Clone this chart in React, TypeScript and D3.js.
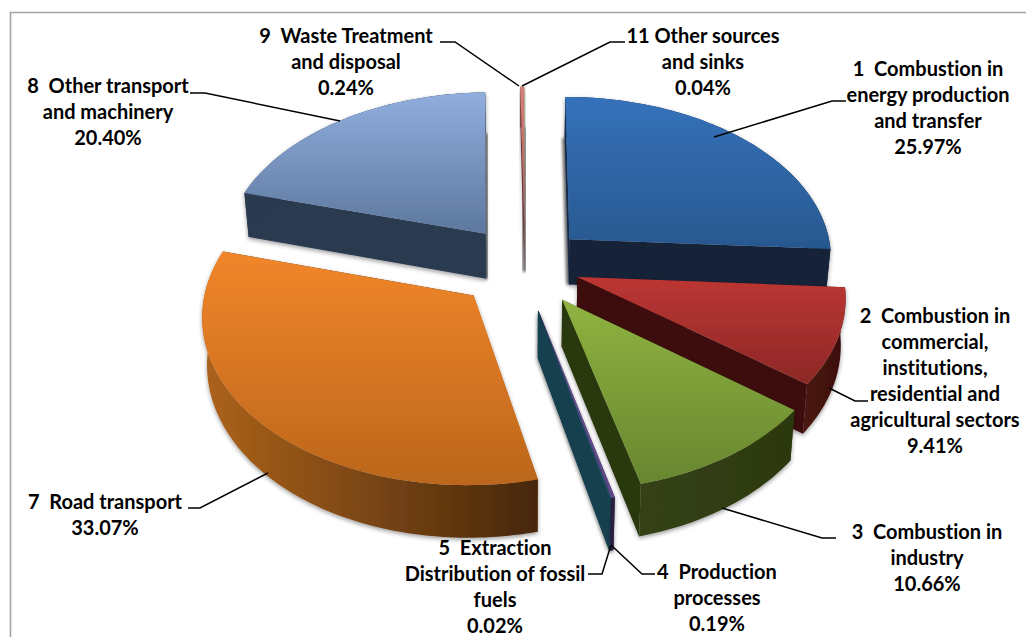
import React from "react";
import * as d3 from "d3";

const sliceIds = [1, 2, 3, 4, 5, 7, 8, 9, 11];
const shares = [25.97, 9.41, 10.66, 0.19, 0.02, 33.07, 20.4, 0.24, 0.04];
const labelLines = [
  ["1  Combustion in", "energy production", "and transfer", "25.97%"],
  ["2  Combustion in", "commercial,", "institutions,", "residential and", "agricultural sectors", "9.41%"],
  ["3  Combustion in", "industry", "10.66%"],
  ["4  Production", "processes", "0.19%"],
  ["5  Extraction", "Distribution of fossil", "fuels", "0.02%"],
  ["7  Road transport", "33.07%"],
  ["8  Other transport", "and machinery", "20.40%"],
  ["9  Waste Treatment", "and disposal", "0.24%"],
  ["11 Other sources", "and sinks", "0.04%"],
];

// Layout and style, kept apart from the values above
const explode = [0.235, 0.21, 0.25, 0.28, 0.28, 0.265, 0.248, 0.24, 0.24];
const nudgeU = [0, 0, 0, -0.018, -0.018, 0, 0, 0, 0];
const labelPos: [number, number][] = [
  [928, 76], [935, 323], [927, 539], [717, 579], [495, 555], [105, 509], [108, 93], [346, 43], [703, 43],
];
const leaders: [number, number][][] = [
  [[846, 101], [832, 101], [714, 137]],
  [[868, 401], [855, 401], [829, 388]],
  [[836, 538], [822, 538], [722, 508]],
  [[655, 574], [642, 574], [611, 545]],
  [[588, 574], [602, 574], [611, 545]],
  [[188, 508], [200, 508], [268, 473]],
  [[190, 93], [205, 93], [340, 121]],
  [[440, 42], [455, 42], [519, 86]],
  [[625, 42], [610, 42], [522, 86]],
];
const topColors = [
  ["#3572bb", "#28588f"], ["#bd3634", "#8c2826"], ["#8fb341", "#67862f"], ["#7d60ad", "#5f4a8a"], ["#3d9ab3", "#2f8aa2"],
  ["#f2862a", "#bb661b"], ["#90aede", "#5d789e"], ["#d9807a", "#a85a58"], ["#f2e8a6", "#c8bf88"],
];
const wallColors = [
  ["#13294a", "#122238"], ["#4a1412", "#3c100e"], ["#354214", "#2c3810"], ["#30244a", "#2a1f42"], ["#123f4e", "#123f4e"],
  ["#ad631b", "#46270c"], ["#2a3a50", "#28364a"], ["#6b3434", "#6b3434"], ["#8a8a80", "#8a8a80"],
];

const CX = 525, CY = 265, B = 264, A = 162.6, C = 0.106, D = 46, LOW_X = 0.985;
const sx = d3.scaleLinear().domain([-1, 1]).range([CX - B, CX + B]);
const sy = d3.scaleLinear().domain([-1, 1]).range([CY - A, CY + A]);

type P = [number, number];
const project = (u: number, v: number, low: boolean): P => {
  const p = 1 / (1 - C * v);
  return [sx(u * p * (low ? LOW_X : 1)), sy(v * p) + (low ? D * p : 0)];
};

const pieGen = d3.pie<number>().sort(null).value((d) => d);
const arcs = pieGen(shares);
const lineGen = d3.line<P>();

function sliceGeometry(i: number) {
  const { startAngle: a0, endAngle: a1 } = arcs[i];
  const mid = (a0 + a1) / 2;
  const du = explode[i] * Math.sin(mid) + nudgeU[i];
  const dv = -explode[i] * Math.cos(mid);
  const n = Math.max(2, Math.ceil((a1 - a0) / 0.02));
  const angles = d3.range(n + 1).map((k) => a0 + ((a1 - a0) * k) / n);
  const rim = (low: boolean) => angles.map((a) => project(du + Math.sin(a), dv - Math.cos(a), low));
  const apexTop = project(du, dv, false);
  const apexLow = project(du, dv, true);
  const rimTop = rim(false);
  const rimLow = rim(true);
  return { mid, apexTop, apexLow, rimTop, rimLow };
}

const order = d3.range(shares.length).sort(
  (a, b) =>
    Math.cos((arcs[b].startAngle + arcs[b].endAngle) / 2) -
    Math.cos((arcs[a].startAngle + arcs[a].endAngle) / 2)
);

export default function App() {
  return (
    <svg
      width={1026}
      height={637}
      style={{ position: "absolute", left: 0, top: 0, background: "#fff" }}
      fontFamily="Lato, 'Open Sans', sans-serif"
    >
      <defs>
        <filter id="soft" x="-20%" y="-20%" width="140%" height="140%">
          <feDropShadow dx={0} dy={2} stdDeviation={2} floodColor="#000" floodOpacity={0.38} />
        </filter>
        <filter id="blur" x="-300%" y="-20%" width="700%" height="140%">
          <feGaussianBlur stdDeviation={1.6} />
        </filter>
        {shares.map((_, i) => (
          <React.Fragment key={i}>
            <linearGradient id={`top${i}`} x1="0" y1="0" x2="0" y2="1">
              <stop offset="0" stopColor={topColors[i][0]} />
              <stop offset="1" stopColor={topColors[i][1]} />
            </linearGradient>
            <linearGradient id={`wall${i}`} x1="0" y1="0" x2="1" y2="0">
              <stop offset="0" stopColor={wallColors[i][0]} />
              <stop offset="1" stopColor={wallColors[i][1]} />
            </linearGradient>
          </React.Fragment>
        ))}
      </defs>

      <path d="M10.5,637V12.5H1026" fill="none" stroke="#a3a3a3" strokeWidth={1.6} />

      {/* soft grey edges behind the gaps at the back of the pie */}
      {[0, 6, 7].map((i) => {
        const g = sliceGeometry(i);
        const rimEnd = i === 0 ? g.rimLow[0] : g.rimLow[g.rimLow.length - 1];
        return (
          <path
            key={i}
            d={lineGen([rimEnd, g.apexLow]) as string}
            stroke="#666"
            strokeOpacity={0.85}
            strokeWidth={5}
            fill="none"
            filter="url(#blur)"
          />
        );
      })}

      {order.map((i) => {
        const g = sliceGeometry(i);
        const wallOuter = [...g.rimTop, ...[...g.rimLow].reverse()];
        const firstWall: P[] = [g.apexTop, g.rimTop[0], g.rimLow[0], g.apexLow];
        const last = g.rimTop.length - 1;
        const lastWall: P[] = [g.apexTop, g.rimTop[last], g.rimLow[last], g.apexLow];
        const surface: P[] = [g.apexTop, ...g.rimTop];
        return (
          <g key={sliceIds[i]} filter="url(#soft)">
            <path d={lineGen(firstWall) + "Z"} fill={wallColors[i][0]} />
            <path d={lineGen(lastWall) + "Z"} fill={wallColors[i][1]} />
            <path d={lineGen(wallOuter) + "Z"} fill={`url(#wall${i})`} />
            <path d={lineGen(surface) + "Z"} fill={`url(#top${i})`} />
          </g>
        );
      })}

      {leaders.map((pts, i) => (
        <path key={i} d={lineGen(pts) as string} fill="none" stroke="#000" strokeWidth={1.5} />
      ))}

      {labelLines.map((lines, i) => (
        <text
          key={i}
          x={labelPos[i][0]}
          y={labelPos[i][1]}
          textAnchor="middle"
          fontWeight={700}
          fontSize={20}
          fill="#000"
          style={{ whiteSpace: "pre", fontVariantLigatures: "none" }}
        >
          {lines.map((t, k) => (
            <tspan key={k} x={labelPos[i][0]} dy={k === 0 ? 0 : 26}>
              {t}
            </tspan>
          ))}
        </text>
      ))}
    </svg>
  );
}
